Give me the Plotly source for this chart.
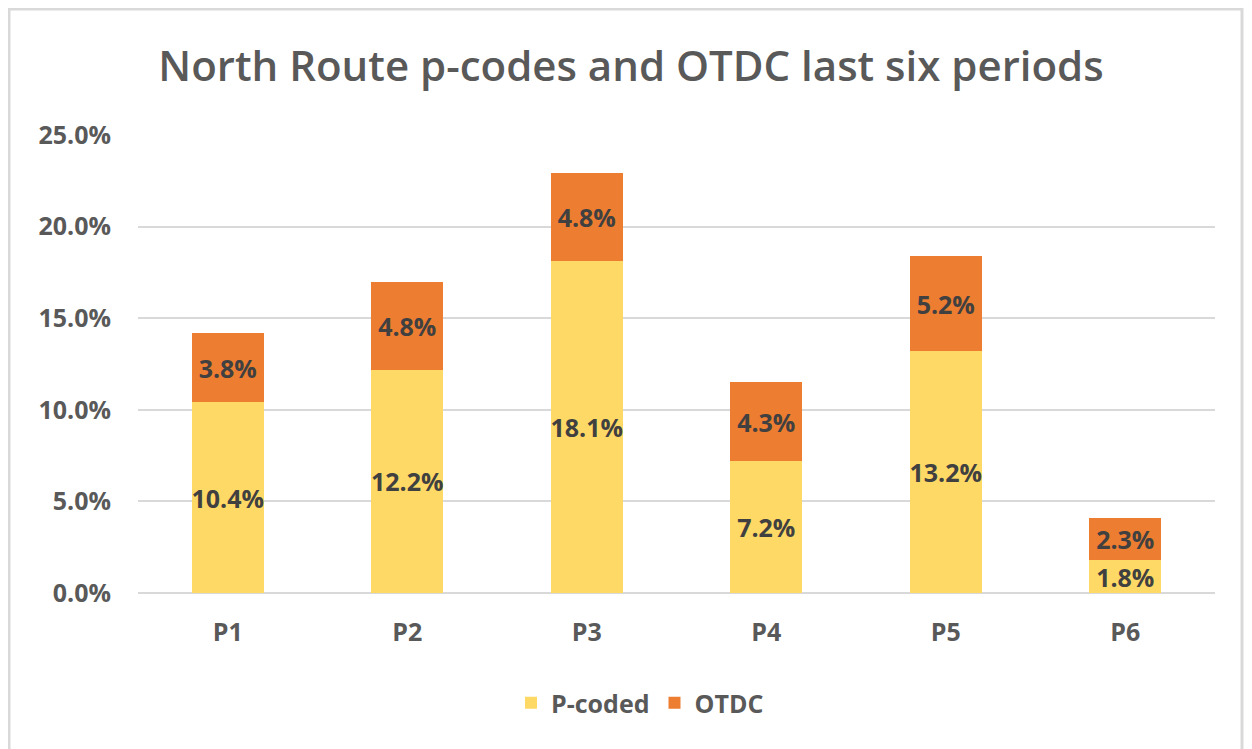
import plotly.graph_objects as go

periods = ["P1", "P2", "P3", "P4", "P5", "P6"]
p_coded = [10.4, 12.2, 18.1, 7.2, 13.2, 1.8]
otdc = [3.8, 4.8, 4.8, 4.3, 5.2, 2.3]

FONT = "Open Sans"
GREY = "#595959"
LABEL = "#404040"

# page body adds 8px, so the figure is placed 8px in from the window edge
W, H = 1236, 741
L, R, T, B = 130, 1207, 127, 585


def bar(name, values, color):
    return go.Bar(
        name=name,
        x=periods,
        y=values,
        marker=dict(color=color, line=dict(width=0)),
        text=[f"{v:.1f}%" for v in values],
        textposition="inside",
        insidetextanchor="middle",
        textangle=0,
        constraintext="none",
        textfont=dict(family=FONT, size=25, color=LABEL, weight=700),
        hoverinfo="skip",
    )


fig = go.Figure([
    bar("P-coded", p_coded, "#FFD966"),
    bar("OTDC", otdc, "#ED7D31"),
])

fig.update_layout(
    width=W,
    height=H,
    barmode="stack",
    bargap=0.6,
    paper_bgcolor="white",
    plot_bgcolor="white",
    margin=dict(l=L, r=W - R, t=T, b=H - B),
    font=dict(family=FONT, color=GREY),
    title=dict(
        text="North Route p-codes and OTDC last six periods",
        x=(631 - 8) / W,
        xanchor="center",
        y=1 - 58 / H,
        yanchor="middle",
        font=dict(family=FONT, size=42, color=GREY, weight=600),
    ),
    legend=dict(
        orientation="h",
        x=(632 - L) / (R - L),
        xanchor="center",
        y=(B - 695) / (B - T),
        yanchor="middle",
        font=dict(family=FONT, size=25, color=GREY, weight=700),
        itemwidth=30,
        traceorder="normal",
    ),
    showlegend=True,
)

fig.update_yaxes(
    range=[0, 25],
    dtick=5,
    ticksuffix="%",
    tickformat=".1f",
    showgrid=True,
    gridcolor="#D9D9D9",
    gridwidth=2,
    zeroline=True,
    zerolinecolor="#D9D9D9",
    zerolinewidth=2,
    showline=False,
    ticks="",
    ticklabelstandoff=26,
    tickfont=dict(family=FONT, size=25, color=GREY, weight=700),
)

fig.update_xaxes(
    showgrid=False,
    showline=False,
    ticks="",
    ticklabelstandoff=22,
    tickfont=dict(family=FONT, size=25, color=GREY, weight=700),
)

# light grey chart frame
fig.add_shape(
    type="rect",
    xref="paper",
    yref="paper",
    x0=(1 - L) / (R - L),
    x1=(1234 - L) / (R - L),
    y0=(B - 760) / (B - T),
    y1=(B - 1) / (B - T),
    line=dict(color="#D9D9D9", width=3),
    fillcolor="rgba(0,0,0,0)",
    layer="below",
)

fig.write_html("out.html")
